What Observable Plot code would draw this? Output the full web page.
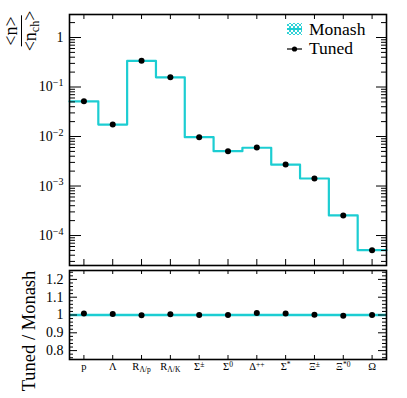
<!DOCTYPE html>
<html><head><meta charset="utf-8">
<script src="https://cdn.jsdelivr.net/npm/d3@7"></script>
<script src="https://cdn.jsdelivr.net/npm/@observablehq/plot@0.6"></script>
<style>
body{margin:0;background:#fff;}
#c{position:relative;width:407px;height:398px;font-family:"Liberation Serif",serif;overflow:hidden;}
#c svg.plot{position:absolute;left:0;overflow:visible;}
#c svg text, #c svg tspan{font-family:"Liberation Serif",serif !important;}
.rot{position:absolute;transform:translate(-50%,-50%) rotate(-90deg);white-space:nowrap;color:#000;}
</style></head><body><div id="c"></div>
<script>
// ---- data ----
const categories = ["p","Λ","RΛ/p","RΛ/K","Σ±","Σ0","Δ++","Σ*","Ξ±","Ξ*0","Ω"];
const labelMain  = ["p","Λ","R","R","Σ","Σ","Δ","Σ","Ξ","Ξ","Ω"];
const labelSub   = ["","","Λ/p","Λ/K","","","","","","",""];
const labelSup   = ["","","","","±","0","++","*","±","*0",""];
const monash = [0.0511, 0.0174, 0.337, 0.157, 0.0097, 0.00505, 0.00593, 0.00270, 0.00142, 0.000255, 0.0000505];
const tuned  = [0.0516, 0.0175, 0.338, 0.158, 0.0097, 0.00505, 0.0060, 0.00272, 0.00142, 0.000254, 0.0000505];
const ratio  = [1.009, 1.006, 0.998, 1.004, 1.000, 1.000, 1.011, 1.008, 1.002, 0.996, 1.000];
const yMajorUpper = [1e-4, 1e-3, 1e-2, 1e-1, 1];
const yMajorLower = [0.8, 0.9, 1.0, 1.1, 1.2];

const cyan = "#1ccdd2";
const W = 407;
const FW = 317;
const centres = categories.map((c, i) => i + 0.5);
const stepPts = monash.flatMap((v, i) => [{x: i, y: v}, {x: i + 1, y: v}]);
const yMinorUpper = [];
for (let e = -5; e <= 0; e++) for (let m = 2; m <= 9; m++) {
  const v = m * Math.pow(10, e);
  if (v > 2.48e-5 && v < 2.915) yMinorUpper.push(v);
}
const yMinorLower = d3.range(0.76, 1.245, 0.02).filter(v => Math.abs(v * 10 - Math.round(v * 10)) > 1e-6);

const font = "Liberation Serif";

// ---- upper panel ----
const FHu = 251;
const upper = Plot.plot({
  width: W, height: 268, marginTop: 14, marginBottom: 3, marginLeft: 69, marginRight: 21,
  x: {domain: [0, 11], axis: null},
  y: {type: "log", domain: [2.48e-5, 2.915], label: null},
  style: {fontFamily: font, background: "transparent"},
  marks: [
    Plot.line(stepPts, {x: "x", y: "y", stroke: cyan, strokeWidth: 2.2}),
    Plot.dot(tuned, {x: (d, i) => centres[i], y: d => d, r: 3, fill: "black"}),
    Plot.tickY(yMajorUpper, {y: d => d, insetRight: FW - 12, stroke: "black"}),
    Plot.tickY(yMinorUpper, {y: d => d, insetRight: FW - 6, stroke: "black"}),
    Plot.tickY(yMajorUpper, {y: d => d, insetLeft: FW - 10, stroke: "black"}),
    Plot.tickY(yMinorUpper, {y: d => d, insetLeft: FW - 5, stroke: "black"}),
    Plot.tickX(centres, {x: d => d, insetTop: FHu - 6, stroke: "black"}),
    Plot.tickX(centres, {x: d => d, insetBottom: FHu - 5, stroke: "black"}),
    Plot.axisY(yMajorUpper, {anchor: "left", tickSize: 0, tickPadding: 6, fontSize: 14, fontFamily: font, fill: "black", label: null,
      tickFormat: d => d === 1 ? "1" : "10^" + Math.round(Math.log10(d))}),
    Plot.frame({stroke: "black", strokeWidth: 1.6})
  ]
});
upper.classList.add("plot");
upper.style.top = "0px";

// ---- lower panel ----
const FHl = 89;
const lower = Plot.plot({
  width: W, height: 132, marginTop: 4, marginBottom: 39, marginLeft: 69, marginRight: 21,
  x: {domain: [0, 11], label: null},
  y: {domain: [0.75, 1.25], label: null},
  style: {fontFamily: font, background: "transparent"},
  marks: [
    Plot.ruleY([1], {stroke: cyan, strokeWidth: 2.6}),
    Plot.dot(ratio, {x: (d, i) => centres[i], y: d => d, r: 3, fill: "black"}),
    Plot.tickY(yMajorLower, {y: d => d, insetRight: FW - 8, stroke: "black"}),
    Plot.tickY(yMinorLower, {y: d => d, insetRight: FW - 4, stroke: "black"}),
    Plot.tickY(yMajorLower, {y: d => d, insetLeft: FW - 8, stroke: "black"}),
    Plot.tickY(yMinorLower, {y: d => d, insetLeft: FW - 4, stroke: "black"}),
    Plot.tickX(centres, {x: d => d, insetTop: FHl - 4, stroke: "black"}),
    Plot.tickX(centres, {x: d => d, insetBottom: FHl - 4, stroke: "black"}),
    Plot.axisY(yMajorLower, {anchor: "left", tickSize: 0, tickPadding: 6, fontSize: 14, fontFamily: font, fill: "black", label: null,
      tickFormat: d => String(+d.toFixed(1))}),
    Plot.axisX(centres, {anchor: "bottom", tickSize: 0, tickPadding: 3, fontSize: 10.5, fontFamily: font, fill: "black", label: null,
      tickFormat: d => categories[Math.floor(d)]}),
    Plot.frame({stroke: "black", strokeWidth: 1.6})
  ]
});
lower.classList.add("plot");
lower.style.top = "266px";

const c = document.getElementById("c");
c.appendChild(upper);
c.appendChild(lower);

// superscripts on upper y labels
d3.select(upper).selectAll('g[aria-label="y-axis tick label"] text').each(function() {
  const t = this.textContent;
  if (t.includes("^")) {
    const [b, e] = t.split("^");
    const s = d3.select(this); s.text("");
    s.append("tspan").text(b);
    s.append("tspan").attr("dy", "-0.5em").attr("font-size", "0.72em").text(e.replace("-", "−"));
  }
});
// sub/superscripts on category labels
d3.select(lower).selectAll('g[aria-label="x-axis tick label"] text').each(function(_, i) {
  const s = d3.select(this); s.text("");
  s.append("tspan").text(labelMain[i]);
  if (labelSub[i]) s.append("tspan").attr("dy", "0.3em").attr("font-size", "0.72em").text(labelSub[i]);
  if (labelSup[i]) s.append("tspan").attr("dy", "-0.45em").attr("font-size", "0.72em").text(labelSup[i]);
});

// y-axis titles
const yl = document.createElement("div");
yl.className = "rot";
yl.style.left = "22px"; yl.style.top = "31px"; yl.style.fontSize = "18px";
yl.innerHTML = '<div style="display:inline-flex;flex-direction:column;align-items:center;line-height:15px">' +
  '<span style="border-bottom:1px solid #000;padding:0 1px 2px">&lt;n&gt;</span>' +
  '<span style="padding-top:1px">&lt;n<sub style="font-size:12px;vertical-align:-3px">ch</sub>&gt;</span></div>';
c.appendChild(yl);

const yl2 = document.createElement("div");
yl2.className = "rot";
yl2.style.left = "29px"; yl2.style.top = "331px"; yl2.style.fontSize = "18.5px";
yl2.textContent = "Tuned / Monash";
c.appendChild(yl2);

// legend
const lg = document.createElementNS("http://www.w3.org/2000/svg", "svg");
lg.setAttribute("width", 110); lg.setAttribute("height", 45);
lg.style.position = "absolute"; lg.style.left = "284px"; lg.style.top = "17px";
lg.innerHTML = `
<defs><pattern id="hatch" width="4" height="4" patternUnits="userSpaceOnUse">
<path d="M0,0 L4,4 M4,0 L0,4" stroke="${cyan}" stroke-width="0.9"/></pattern></defs>
<rect x="3" y="6" width="15" height="12" fill="url(#hatch)"/>
<line x1="3" x2="18" y1="12" y2="12" stroke="${cyan}" stroke-width="2"/>
<line x1="3" x2="18" y1="32" y2="32" stroke="black" stroke-width="1.2"/>
<circle cx="10.5" cy="32" r="2.6" fill="black"/>
<text x="25" y="18" font-size="17.5">Monash</text>
<text x="25" y="37" font-size="17.5">Tuned</text>`;
c.appendChild(lg);
</script></body></html>
